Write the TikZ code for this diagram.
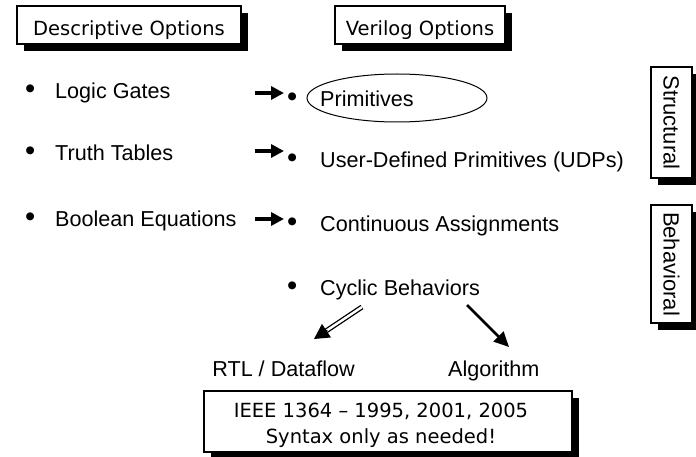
\documentclass[tikz,border=0pt]{standalone}
\usepackage{fontspec}
\usepackage{graphicx}
\setmainfont{Liberation Sans}
\newfontfamily\boxfont{DejaVu Sans}
\usetikzlibrary{arrows.meta,shadows,shapes.geometric,calc}

% a slightly heavier list bullet
\newcommand\itembullet{\scalebox{1.35}{\textbullet}}

\tikzset{
  labelbox/.style={draw=black, line width=1.3pt, fill=white, inner sep=0pt,
    drop shadow={shadow xshift=7pt, shadow yshift=-7pt, fill=black, opacity=1}},
  boxtext/.style={font=\boxfont\fontsize{19.5}{26}\selectfont},
  sidetext/.style={font=\fontsize{22}{26}\selectfont},
  item/.style={anchor=base west, inner sep=0pt, font=\fontsize{21.6}{26}\selectfont},
  mapsto/.style={line width=4.5pt, -{Triangle[length=13pt,width=13pt]}},
  hollowshaft/.style={double, double distance=2.4pt, line width=1.3pt},
  solidtip/.style={line width=1pt, -{Triangle[length=15pt,width=16pt]}},
  solidarrow/.style={line width=2.5pt, -{Triangle[length=15pt,width=14pt]}},
}

\begin{document}
\begin{tikzpicture}[x=1pt, y=-1pt]
  \useasboundingbox (0,0) rectangle (696,457);

  % column headings
  \node[labelbox, boxtext, minimum width=224pt, minimum height=38pt,
        text height=22pt, text depth=0pt] (desc) at (129,25) {Descriptive Options};
  \node[labelbox, boxtext, minimum width=170pt, minimum height=38pt,
        text height=22pt, text depth=0pt] (veri) at (420,25) {Verilog Options};

  % side tags
  \node[labelbox, sidetext, minimum width=41pt, minimum height=111pt]
        (struct) at (671.5,122.5) {\rotatebox{-90}{Structural}};
  \node[labelbox, sidetext, minimum width=41pt, minimum height=118pt]
        (behav) at (671.5,264) {\rotatebox{-90}{Behavioral}};

  % descriptive options
  \node[item] (gates) at (25,99) {\makebox[30pt][l]{\itembullet}Logic Gates};
  \node[item] (tables) at (25,161) {\makebox[30pt][l]{\itembullet}Truth Tables};
  \node[item] (equations) at (25,226) {\makebox[30pt][l]{\itembullet}Boolean Equations};

  % verilog options
  \node[draw, ellipse, line width=1pt, minimum width=180pt, minimum height=48pt]
        (primoval) at (397,98) {};
  \node[item] (prims) at (287,106.5) {\makebox[33pt][l]{\itembullet}Primitives};
  \node[item] (udps) at (287,168) {\makebox[33pt][l]{\itembullet}User-Defined Primitives (UDPs)};
  \node[item] (assigns) at (287,231.5) {\makebox[33pt][l]{\itembullet}Continuous Assignments};
  \node[item] (cyclic) at (287,295) {\makebox[33pt][l]{\itembullet}Cyclic Behaviors};

  % mapping arrows
  \coordinate (m1a) at (255,93);  \coordinate (m1b) at (284,93);
  \coordinate (m2a) at (255,151); \coordinate (m2b) at (284,151);
  \coordinate (m3a) at (255,219); \coordinate (m3b) at (284,219);
  \draw[mapsto] (m1a) -- (m1b);
  \draw[mapsto] (m2a) -- (m2b);
  \draw[mapsto] (m3a) -- (m3b);

  % styles of cyclic behaviors
  \node[item, anchor=base east] (rtl) at (355,376) {RTL / Dataflow};
  \node[item] (algo) at (448,376) {Algorithm};
  \coordinate (c1a) at (362,307); \coordinate (c1b) at (314,339);
  \coordinate (c2a) at (467,305); \coordinate (c2b) at (509,347);
  \draw[hollowshaft] (c1a) -- ($(c1b)!12pt!(c1a)$);
  \draw[solidtip] ($(c1b)!16pt!(c1a)$) -- (c1b);
  \draw[solidarrow] (c2a) -- (c2b);

  % standard note
  \node[labelbox, minimum width=368pt, minimum height=61pt] (std) at (388,421.5) {};
  \node[boxtext, align=center, inner sep=0pt] (stdtext) at (381,425)
        {IEEE 1364 – 1995, 2001, 2005\\Syntax only as needed!};
\end{tikzpicture}
\end{document}
